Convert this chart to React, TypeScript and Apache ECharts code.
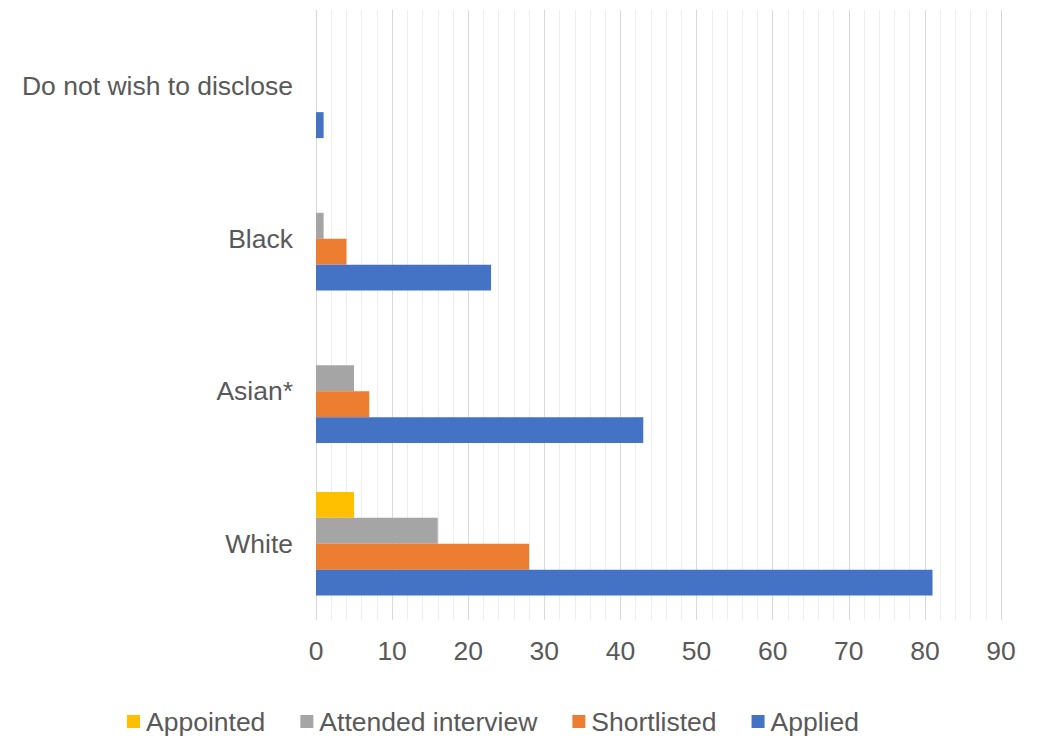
import React, { useEffect, useRef } from "react";
import * as echarts from "echarts";

const categories = ["White", "Asian*", "Black", "Do not wish to disclose"];
const appointed = [5, 0, 0, 0];
const attended = [16, 5, 1, 0];
const shortlisted = [28, 7, 4, 0];
const applied = [81, 43, 23, 1];
const seriesNames = ["Appointed", "Attended interview", "Shortlisted", "Applied"];
const colors = ["#FFC000", "#A5A5A5", "#ED7D31", "#4472C4"];

export default function App() {
  const ref = useRef<HTMLDivElement>(null);
  useEffect(() => {
    if (!ref.current) return;
    const chart = echarts.init(ref.current, null, { renderer: "svg" });
    const dataSets = [appointed, attended, shortlisted, applied];
    chart.setOption({
      animation: false,
      textStyle: { fontFamily: "Liberation Sans, Arial, sans-serif" },
      grid: { left: 316, right: 42, top: 10, bottom: 116, containLabel: false },
      legend: {
        data: seriesNames,
        top: 703,
        left: 122,
        itemWidth: 13,
        itemHeight: 13,
        itemGap: 35,
        icon: "rect",
        textStyle: { color: "#595959", fontSize: 26.5, padding: [0, 0, 0, 1] },
      },
      xAxis: {
        type: "value",
        min: 0,
        max: 90,
        interval: 10,
        axisLine: { show: false },
        axisTick: { show: false },
        axisLabel: { color: "#595959", fontSize: 26.5, margin: 17 },
        splitLine: { show: true, lineStyle: { color: "#D9D9D9", width: 1 } },
        minorTick: { show: false, splitNumber: 5 },
        minorSplitLine: { show: true, lineStyle: { color: "#EEEEEE", width: 1 } },
      },
      yAxis: {
        type: "category",
        data: categories,
        axisLine: { show: true, lineStyle: { color: "#D9D9D9", width: 1 } },
        axisTick: { show: false },
        axisLabel: { color: "#595959", fontSize: 26.5, margin: 23 },
      },
      series: seriesNames.map((name, i) => ({
        name,
        type: "bar",
        data: dataSets[i],
        barGap: "0%",
        barCategoryGap: "32%",
        itemStyle: { color: colors[i] },
      })),
    });
    return () => chart.dispose();
  }, []);
  return (
    <div
      ref={ref}
      style={{ position: "fixed", left: 0, top: 0, width: 1043, height: 736, background: "#fff" }}
    />
  );
}
